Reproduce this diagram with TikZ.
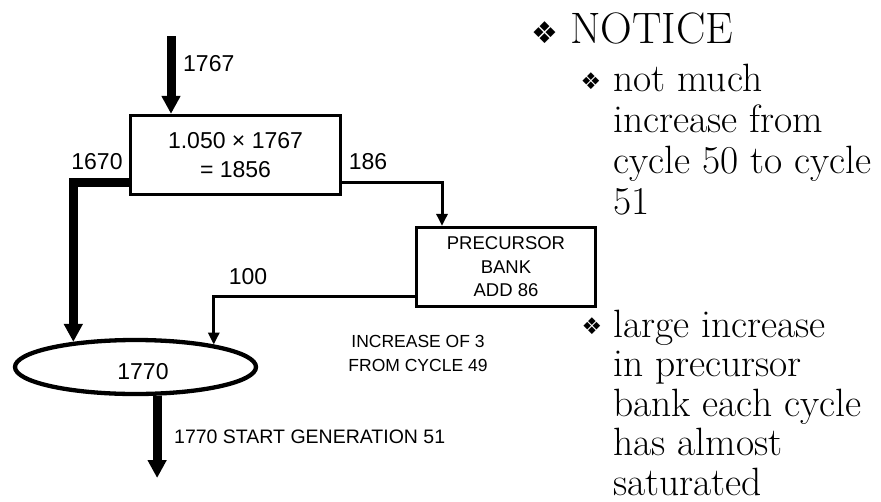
\documentclass[tikz,border=0pt]{standalone}
\usepackage{fontspec}
\newfontfamily\arial{Liberation Sans}
\newfontfamily\dejavu{DejaVu Sans}
\usetikzlibrary{arrows.meta,shapes.geometric}
\begin{document}
\begin{tikzpicture}[x=1pt,y=-1pt,
  lbl/.style={font=\arial\fontsize{23}{29.5}\selectfont, inner sep=0pt, align=center},
  small/.style={font=\arial\fontsize{18.5}{23.5}\selectfont, inner sep=0pt, align=center},
  box/.style={draw, line width=3.3pt, inner sep=0pt},
  thickarrow/.style={line width=9pt, -{Triangle[width=18pt,length=18pt]}},
  thinarrow/.style={line width=3pt, -{Triangle[width=11pt,length=12pt]}},
  serif/.style={font=\fontsize{39.5}{40}\selectfont, align=left, inner sep=0pt, anchor=base west},
  bul/.style={font=\dejavu\fontsize{23}{23}\selectfont, inner sep=0pt}
]
\useasboundingbox[fill=white] (0,0) rectangle (881,501);

% boxes
\node[box, lbl, minimum width=210pt, minimum height=79pt] (b1) at (235.5,155) {1.050 × 1767\\= 1856};
\node[box, small, minimum width=179pt, minimum height=79pt] (b2) at (506,267) {PRECURSOR\\BANK\\ADD 86};
\node[draw, ellipse, line width=4.3pt, minimum width=241pt, minimum height=54pt, inner sep=0pt] (ell) at (135.5,367) {};
\node[lbl] (t1770) at (143,372) {1770};

% connectors
\coordinate (in) at (171,36);
\draw[thickarrow] (in) -- (in |- b1.north);
\draw[thickarrow] ([yshift=-27pt]b1.west) -| (ell.158.5);
\draw[thinarrow] ([yshift=-27pt]b1.east) -| ([xshift=-64pt]b2.north);
\draw[thinarrow] ([yshift=-29pt]b2.west) -| (ell.16);
\coordinate (outp) at (157,478);
\draw[thickarrow] (ell.-53) -- (ell.-53 |- outp);

% labels
\node[lbl, anchor=west] (l1767) at (183,64) {1767};
\node[lbl] (l1670) at (97,162) {1670};
\node[lbl] (l186) at (368,162) {186};
\node[lbl] (l100) at (248,277) {100};
\node[small, font=\arial\fontsize{17.5}{24}\selectfont] (inc) at (418,353) {INCREASE OF 3\\FROM CYCLE 49};
\node[small, font=\arial\fontsize{19.5}{24}\selectfont, anchor=west] (start) at (174,437) {1770 START GENERATION 51};

% right text
\node[bul, font=\dejavu\fontsize{30}{30}\selectfont] (bn) at (545,33) {❖};
\node[serif, font=\fontsize{44}{44}\selectfont] (notice) at (570,43) {NOTICE};
\node[bul] (bu1) at (591,81) {❖};
\node[serif, font=\fontsize{39.5}{40.7}\selectfont] (t1) at (613,214) {not much\\increase from\\cycle 50 to cycle\\51};
\node[bul] (bu2) at (592,326) {❖};
\node[serif, font=\fontsize{39.5}{39.5}\selectfont] (t2) at (613,495) {large increase\\in precursor\\bank each cycle\\has almost\\saturated};
\end{tikzpicture}
\end{document}
